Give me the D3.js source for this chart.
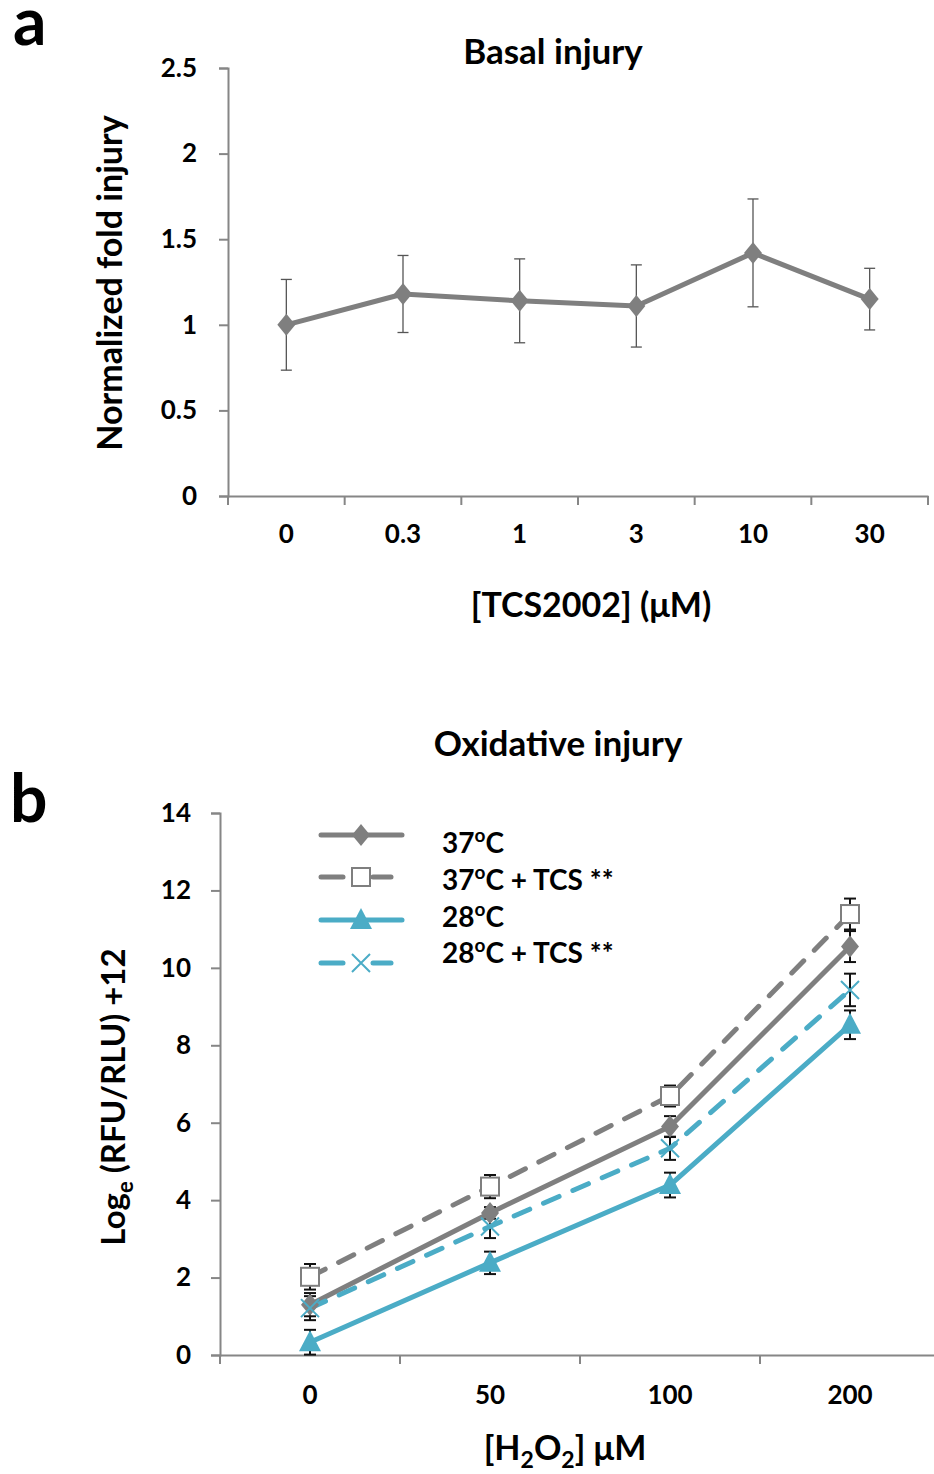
<!DOCTYPE html>
<html>
<head>
<meta charset="utf-8">
<script src="https://cdn.jsdelivr.net/npm/d3@7"></script>
<style>
  html, body { margin: 0; padding: 0; background: #fff; }
  svg text { font-family: Lato, "Open Sans", sans-serif; font-weight: bold; fill: #000; }
</style>
</head>
<body>
<svg id="fig" width="934" height="1474"></svg>
<script>
// Panel a: basal injury vs TCS2002 concentration
const tcsDoses = ["0", "0.3", "1", "3", "10", "30"];
const basalMean = [1.00, 1.18, 1.14, 1.11, 1.42, 1.15];
const basalErr  = [0.265, 0.225, 0.245, 0.24, 0.315, 0.18];
const basalTicks = [0, 0.5, 1, 1.5, 2, 2.5];

// Panel b: oxidative injury vs H2O2 concentration
const h2o2Doses = ["0", "50", "100", "200"];
const ox37      = [1.30, 3.67, 5.90, 10.55];
const ox37Err   = [0.30, 0.15, 0.27, 0.40];
const ox37Tcs   = [2.02, 4.35, 6.69, 11.39];
const ox37TcsErr= [0.33, 0.30, 0.27, 0.40];
const ox28      = [0.33, 2.38, 4.39, 8.53];
const ox28Err   = [0.32, 0.29, 0.32, 0.37];
const ox28Tcs   = [1.21, 3.32, 5.34, 9.43];
const ox28TcsErr= [0.31, 0.30, 0.30, 0.42];
const oxTicks = [0, 2, 4, 6, 8, 10, 12, 14];

const GREY = "#7f7f7f";
const BLUE = "#4bacc6";
const AXIS = "#868686";

const svg = d3.select("#fig");

// ---------- marker shapes ----------
function diamond(g, x, y, color) {
  g.append("path")
    .attr("d", `M${x},${y-11} L${x+9},${y} L${x},${y+11} L${x-9},${y} Z`)
    .attr("fill", color);
}
function square(g, x, y, color) {
  g.append("rect").attr("x", x-9).attr("y", y-9).attr("width", 18).attr("height", 18)
    .attr("fill", "#fff").attr("stroke", color).attr("stroke-width", 2);
}
function triangle(g, x, y, color) {
  g.append("path")
    .attr("d", `M${x},${y-12} L${x+11},${y+9} L${x-11},${y+9} Z`)
    .attr("fill", color);
}
function cross(g, x, y, color) {
  g.append("path")
    .attr("d", `M${x-9},${y-9} L${x+9},${y+9} M${x+9},${y-9} L${x-9},${y+9}`)
    .attr("stroke", color).attr("stroke-width", 2).attr("fill", "none");
}

// ---------- helpers ----------
function drawAxes(g, xBand, yScale, ticks, y0, yPad, xLabelY) {
  // y axis
  const yAxis = d3.axisLeft(yScale).tickValues(ticks).tickSize(9).tickPadding(yPad).tickFormat(d => String(d));
  const ya = g.append("g").attr("transform", `translate(${xBand.range()[0]},0)`).call(yAxis);
  ya.select(".domain").attr("stroke", AXIS).attr("stroke-width", 2);
  ya.selectAll(".tick line").attr("stroke", AXIS).attr("stroke-width", 2);
  ya.selectAll(".tick text").style("font-size", "26px").attr("fill", "#000");

  // x axis labels (band centres) with tick marks at the band boundaries
  const xAxis = d3.axisBottom(xBand).tickSize(0).tickPadding(0);
  const xa = g.append("g").attr("transform", `translate(0,${y0})`).call(xAxis);
  xa.select(".domain").attr("stroke", AXIS).attr("stroke-width", 2);
  xa.selectAll(".tick text").style("font-size", "26px").attr("fill", "#000")
    .attr("y", xLabelY).attr("dy", 0);
  const bounds = xBand.domain().map(d => xBand(d)).concat([xBand.range()[1]]);
  g.append("g").selectAll("line").data(bounds).join("line")
    .attr("x1", d => d).attr("x2", d => d)
    .attr("y1", y0).attr("y2", y0 + 9)
    .attr("stroke", AXIS).attr("stroke-width", 2);
}

function errorBars(g, xs, means, errs, yScale, color, capW, width) {
  means.forEach((m, i) => {
    const x = xs[i];
    const yt = yScale(m + errs[i]), yb = yScale(m - errs[i]);
    g.append("line").attr("x1", x).attr("x2", x).attr("y1", yt).attr("y2", yb)
      .attr("stroke", color).attr("stroke-width", width);
    [yt, yb].forEach(yy => g.append("line")
      .attr("x1", x - capW/2).attr("x2", x + capW/2).attr("y1", yy).attr("y2", yy)
      .attr("stroke", color).attr("stroke-width", width));
  });
}

// ================= Panel a =================
const ga = svg.append("g");
const xA = d3.scaleBand().domain(tcsDoses).range([228, 928]).padding(0);
const yA = d3.scaleLinear().domain([0, 2.5]).range([496, 68]);
const cxA = tcsDoses.map(d => xA(d) + xA.bandwidth() / 2);

drawAxes(ga, xA, yA, basalTicks, 496, 22, 47);

errorBars(ga, cxA, basalMean, basalErr, yA, "#555", 11, 1.3);

ga.append("path")
  .datum(basalMean)
  .attr("d", d3.line().x((d, i) => cxA[i]).y(d => yA(d)))
  .attr("fill", "none").attr("stroke", GREY).attr("stroke-width", 5).attr("stroke-linejoin", "round");
basalMean.forEach((m, i) => diamond(ga, cxA[i], yA(m), GREY));

ga.append("text").attr("x", 553).attr("y", 64).attr("text-anchor", "middle")
  .style("font-size", "35px").text("Basal injury");
ga.append("text").attr("x", 591).attr("y", 617).attr("text-anchor", "middle")
  .style("font-size", "34px").text("[TCS2002] (μM)");
ga.append("text").attr("transform", "translate(122,283) rotate(-90)").attr("text-anchor", "middle")
  .style("font-size", "34px").text("Normalized fold injury");
ga.append("text").attr("x", 13).attr("y", 45).style("font-size", "66px").text("a");

// ================= Panel b =================
const gb = svg.append("g");
const xB = d3.scaleBand().domain(h2o2Doses).range([220, 940]).padding(0);
const yB = d3.scaleLinear().domain([0, 14]).range([1355, 813]);
const cxB = h2o2Doses.map(d => xB(d) + xB.bandwidth() / 2);

drawAxes(gb, xB, yB, oxTicks, 1355, 20, 49);

const seriesB = [
  { vals: ox37, errs: ox37Err, color: GREY, dash: null, marker: diamond },
  { vals: ox37Tcs, errs: ox37TcsErr, color: GREY, dash: "17,15", marker: square },
  { vals: ox28, errs: ox28Err, color: BLUE, dash: null, marker: triangle },
  { vals: ox28Tcs, errs: ox28TcsErr, color: BLUE, dash: "17,15", marker: cross }
];

seriesB.forEach(s => errorBars(gb, cxB, s.vals, s.errs, yB, "#111", 12, 2));

const lineB = d3.line().x((d, i) => cxB[i]).y(d => yB(d));
seriesB.forEach(s => {
  const p = gb.append("path").datum(s.vals).attr("d", lineB)
    .attr("fill", "none").attr("stroke", s.color).attr("stroke-width", 5)
    .attr("stroke-linejoin", "round");
  if (s.dash) p.attr("stroke-dasharray", s.dash).attr("stroke-linecap", "round");
});
seriesB.forEach(s => s.vals.forEach((v, i) => s.marker(gb, cxB[i], yB(v), s.color)));

// legend
const legendRows = [
  { s: seriesB[0], y: 835, ty: 853, parts: ["37", "o", "C"] },
  { s: seriesB[1], y: 877, ty: 890, parts: ["37", "o", "C + TCS **"] },
  { s: seriesB[2], y: 920, ty: 927, parts: ["28", "o", "C"] },
  { s: seriesB[3], y: 963, ty: 963, parts: ["28", "o", "C + TCS **"] }
];
legendRows.forEach(r => {
  if (r.s.dash) {
    gb.append("line").attr("x1", 321).attr("x2", 343).attr("y1", r.y).attr("y2", r.y)
      .attr("stroke", r.s.color).attr("stroke-width", 5).attr("stroke-linecap", "round");
    gb.append("line").attr("x1", 373).attr("x2", 391).attr("y1", r.y).attr("y2", r.y)
      .attr("stroke", r.s.color).attr("stroke-width", 5).attr("stroke-linecap", "round");
  } else {
    gb.append("line").attr("x1", 321).attr("x2", 402).attr("y1", r.y).attr("y2", r.y)
      .attr("stroke", r.s.color).attr("stroke-width", 5).attr("stroke-linecap", "round");
  }
  r.s.marker(gb, 361, r.y, r.s.color);
  const t = gb.append("text").attr("x", 442).attr("y", r.ty).style("font-size", "28px");
  t.append("tspan").text(r.parts[0]);
  t.append("tspan").attr("dy", -11).style("font-size", "19px").text(r.parts[1]);
  t.append("tspan").attr("dy", 11).text(r.parts[2]);
});

gb.append("text").attr("x", 558).attr("y", 756).attr("text-anchor", "middle")
  .style("font-size", "35px").text("Oxidative injury");

const xl = gb.append("text").attr("x", 565).attr("y", 1460).attr("text-anchor", "middle")
  .style("font-size", "34px");
xl.append("tspan").text("[H");
xl.append("tspan").attr("dy", 8).style("font-size", "23px").text("2");
xl.append("tspan").attr("dy", -8).text("O");
xl.append("tspan").attr("dy", 8).style("font-size", "23px").text("2");
xl.append("tspan").attr("dy", -8).text("] μM");

const yl = gb.append("text").attr("transform", "translate(125,1097) rotate(-90)")
  .attr("text-anchor", "middle").style("font-size", "33px");
yl.append("tspan").text("Log");
yl.append("tspan").attr("dy", 8).style("font-size", "22px").text("e");
yl.append("tspan").attr("dy", -8).text(" (RFU/RLU) +12");

gb.append("text").attr("x", 10).attr("y", 822).style("font-size", "66px").text("b");
</script>
</body>
</html>
